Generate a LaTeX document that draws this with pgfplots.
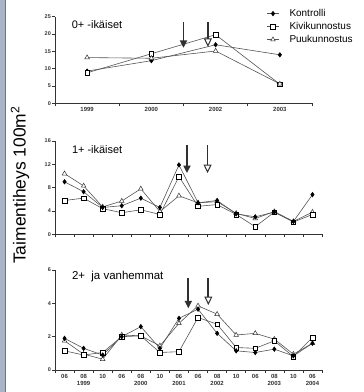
\documentclass[border=0pt]{standalone}
\usepackage{fontspec}
\setmainfont{Liberation Sans}
\usepackage{pgfplots}
\pgfplotsset{compat=1.18}
\usetikzlibrary{arrows.meta}
\definecolor{lin}{HTML}{555555}
\definecolor{arr}{HTML}{303030}
\definecolor{barc}{HTML}{A9B5C6}

\tikzset{
 farr/.style={arr, line width=1.8bp, -{Triangle[width=7bp,length=7.5bp]}},
 oarr/.style={arr, line width=1.8bp, -{Triangle[open,fill=white,width=8bp,length=8.5bp,line width=1bp]}},
}
\pgfplotsset{
 panel/.style={
  scale only axis,
  axis lines=left,
  axis line style={-, black!80, line width=0.6bp},
  tick style={black!80, line width=0.5bp},
  tick align=outside,
  major tick length=3bp,
  minor tick length=3bp,
  major x tick style={draw=none},
  /pgf/number format/assume math mode=true,
  yticklabel style={font=\fontsize{5.5}{6}\selectfont\bfseries, inner sep=1bp, text=black!80},
  xticklabel style={font=\fontsize{6}{7}\selectfont\bfseries, align=center, inner sep=1bp, text=black!80},
  every axis plot/.append style={line width=0.6bp, color=lin},
 },
 kon/.style={mark=diamond*, mark size=2.2bp, mark options={fill=black,draw=black}},
 kivi/.style={mark=square*, mark size=2.3bp, mark options={fill=white, draw=black, line width=0.5bp}},
 puu/.style={mark=triangle*, mark size=2.7bp, mark options={fill=white,draw=black!80,line width=0.5bp}},
}

\begin{document}
\begin{tikzpicture}
\useasboundingbox (0,0) rectangle (364bp,392bp);
\fill[barc] (0,0) rectangle (4.5bp,392bp);
\draw[black!55, line width=0.8bp] (4.9bp,0) -- (4.9bp,392bp);

% ---------- panel 1 ----------
\begin{axis}[panel,
  at={(55bp,288.7bp)}, anchor=south west,
  width=257bp, height=86.6bp,
  xmin=0, xmax=4, ymin=0, ymax=25,
  ytick={0,5,10,15,20,25},
  xtick={0.5,1.5,2.5,3.5}, xticklabels={1999,2000,2002,2003},
  minor xtick={0,1,2,3,4},
  legend style={draw=none, fill=none, at={(axis description cs:0.822,1.10)}, anchor=north west,
    font=\fontsize{10}{11}\selectfont, row sep=2.3bp, inner sep=0pt,
    nodes={inner sep=1bp}, cells={anchor=west},
    /tikz/every odd column/.append style={column sep=9bp}},
  legend image code/.code={\draw[mark repeat=2,mark phase=2] plot coordinates {(0cm,0cm) (0.22cm,0cm) (0.44cm,0cm)};},
]
\addplot[kon] coordinates {(0.5,9.3) (1.5,12.3) (2.5,16.9) (3.5,14.0)};
\addlegendentry{Kontrolli}
\addplot[kivi] coordinates {(0.5,8.8) (1.5,14.3) (2.5,19.8) (3.5,5.5)};
\addlegendentry{Kivikunnostus}
\addplot[puu] coordinates {(0.5,13.2) (1.5,13.0) (2.5,15.1) (3.5,5.6)};
\addlegendentry{Puukunnostus}
\draw[farr] (axis cs:2.0,23.5) -- (axis cs:2.0,16.0);
\draw[oarr] (axis cs:2.38,23.5) -- (axis cs:2.38,16.3);
\node[anchor=west, font=\fontsize{11}{12}\selectfont, inner sep=0pt] at (axis description cs:0.065,0.91) {0+ -ikäiset};
\end{axis}

% ---------- panel 2 ----------
\begin{axis}[panel,
  at={(55bp,157.7bp)}, anchor=south west,
  width=267bp, height=93.3bp,
  xmin=0.5, xmax=14.5, ymin=0, ymax=16,
  ytick={0,4,8,12,16},
  xtick={1,...,14}, xticklabels={},
  minor xtick={0.5,1.5,...,14.5},
]
\addplot[puu] coordinates {(1,10.4) (2,8.3) (3,4.7) (4,5.7) (5,7.8) (6,3.9) (7,6.6) (8,5.4) (9,5.6) (10,3.6) (11,2.7) (12,3.9) (13,2.2) (14,3.8)};
\addplot[kivi] coordinates {(1,5.8) (2,6.2) (3,4.4) (4,3.7) (5,4.2) (6,3.4) (7,9.9) (8,4.8) (9,5.1) (10,3.4) (11,1.3) (12,3.8) (13,2.1) (14,3.4)};
\addplot[kon] coordinates {(1,9.0) (2,7.3) (3,4.6) (4,4.9) (5,6.2) (6,4.6) (7,11.9) (8,5.4) (9,5.8) (10,3.5) (11,3.0) (12,3.8) (13,2.2) (14,6.8)};
\draw[farr] (axis cs:7.42,15.3) -- (axis cs:7.42,10.5);
\draw[oarr] (axis cs:8.5,15.3) -- (axis cs:8.5,10.5);
\node[anchor=west, font=\fontsize{11}{12}\selectfont, inner sep=0pt] at (axis description cs:0.063,0.91) {1+ -ikäiset};
\end{axis}

% ---------- panel 3 ----------
\begin{axis}[panel,
  at={(55bp,22bp)}, anchor=south west,
  width=267bp, height=100bp,
  xmin=0.5, xmax=14.5, ymin=0, ymax=6,
  ytick={0,2,4,6},
  xtick={1,...,14},
  xticklabels={06,{08\\1999},10,06,{08\\2000},10,{06\\2001},06,{08\\2002},10,06,{08\\2003},10,{06\\2004}},
  minor xtick={0.5,1.5,...,14.5},
]
\addplot[puu] coordinates {(1,1.75) (2,0.95) (3,0.65) (4,2.1) (5,2.05) (6,1.45) (7,2.8) (8,3.85) (9,3.35) (10,2.1) (11,2.2) (12,1.85) (13,0.95) (14,1.6)};
\addplot[kivi] coordinates {(1,1.15) (2,0.9) (3,1.05) (4,2.0) (5,2.05) (6,1.05) (7,1.1) (8,3.15) (9,2.75) (10,1.35) (11,1.3) (12,1.75) (13,0.8) (14,1.95)};
\addplot[kon] coordinates {(1,1.9) (2,1.3) (3,0.9) (4,2.0) (5,2.6) (6,1.3) (7,3.1) (8,3.65) (9,2.2) (10,1.15) (11,1.05) (12,1.25) (13,0.85) (14,1.6)};
\draw[farr] (axis cs:7.49,5.5) -- (axis cs:7.49,3.7);
\draw[oarr] (axis cs:8.54,5.5) -- (axis cs:8.54,3.9);
\node[anchor=west, font=\fontsize{11.5}{12}\selectfont, inner sep=0pt] at (axis description cs:0.063,0.93) {2+\ \ ja vanhemmat};
\end{axis}

\node[rotate=90, anchor=west, font=\fontsize{17.5}{18}\selectfont, inner sep=0pt] at (20bp,128bp) {Taimentiheys 100m\textsuperscript{2}};
\end{tikzpicture}
\end{document}
